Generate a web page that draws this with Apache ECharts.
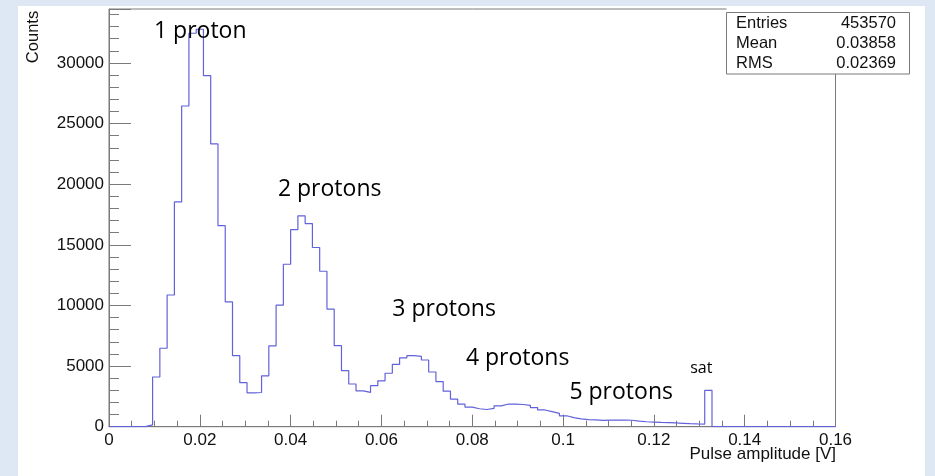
<!DOCTYPE html>
<html>
<head>
<meta charset="utf-8">
<script src="https://cdn.jsdelivr.net/npm/echarts@6/dist/echarts.min.js"></script>
<style>
  html, body { margin:0; padding:0; background:#dee8f4; }
  #panel { position:absolute; left:18px; top:6px; width:907px; height:470px; background:#fff; }
  #chart { position:absolute; left:0; top:0; width:935px; height:476px; }
</style>
</head>
<body>
<div id="panel"></div>
<div id="chart"></div>
<script>
// ---- Data ----
const binWidth = 0.0016;           // 100 bins over 0 .. 0.16 V
const xTickLabels = ['0','0.02','0.04','0.06','0.08','0.1','0.12','0.14','0.16'];
const yTickLabels = ['0','5000','10000','15000','20000','25000','30000'];
const counts = [
  0, 0, 0, 0, 0, 150, 4100, 6470, 10860, 18540,
  26450, 32450, 32780, 28950, 23320, 16580, 10290, 5860, 3630, 2790,
  2820, 4200, 6670, 10020, 13400, 16250, 17390, 16750, 14780, 12820,
  9700, 6680, 4620, 3520, 2960, 2830, 3380, 3780, 4410, 5140,
  5680, 5860, 5800, 5500, 4510, 3720, 2930, 2270, 1860, 1610,
  1480, 1420, 1510, 1720, 1870, 1870, 1830, 1760, 1580, 1380,
  1240, 1100, 900, 750, 640, 590, 560, 520, 540, 550,
  540, 530, 460, 410, 380, 350, 330, 310, 280, 250,
  230, 220, 3000, 0, 0, 0, 0, 0, 0, 0,
  0, 0, 0, 0, 0, 0, 0, 0, 0, 0
];
const annotations = [
  { text: '1 proton',  x: 0.0099, y: 32600 },
  { text: '2 protons', x: 0.0372, y: 19600 },
  { text: '3 protons', x: 0.0624, y: 9700 },
  { text: '4 protons', x: 0.0786, y: 5600 },
  { text: '5 protons', x: 0.1014, y: 2800 }
];
const satLabel = { text: 'sat', x: 0.1280, y: 4800 };
const stats = [['Entries','453570'],['Mean','0.03858'],['RMS','0.02369']];
const xTitle = 'Pulse amplitude [V]';
const yTitle = 'Counts';

// ---- Build ----
const histData = counts.map((c, i) => [i * binWidth, c]);
histData.push([counts.length * binWidth, counts[counts.length - 1]]);

const yMax = 34450;
const axisCol = '#7a7a7a';
const txtCol = '#111';
const axisFont = 'Liberation Sans, Arial, Helvetica, sans-serif';
const annFont = '"Open Sans", "Noto Sans", sans-serif';

const chart = echarts.init(document.getElementById('chart'), null, { renderer: 'canvas' });

const grid = { left: 109, right: 99.5, top: 9, bottom: 49.3 };

const annLabel = { color: '#000', fontSize: 23, fontFamily: annFont, opacity: 1 };

const option = {
  animation: false,
  backgroundColor: 'transparent',
  grid: Object.assign({ show: true, borderColor: axisCol, borderWidth: 1, backgroundColor: '#fff' }, grid),
  xAxis: {
    type: 'value', min: 0, max: 0.16, interval: 0.02,
    axisLine: { show: true, onZero: false, lineStyle: { color: axisCol, width: 1 } },
    axisTick: { show: true, inside: true, length: 12, lineStyle: { color: axisCol } },
    minorTick: { show: true, splitNumber: 4, length: 6, lineStyle: { color: axisCol } },
    splitLine: { show: false },
    axisLabel: {
      margin: 5, fontSize: 17, color: txtCol, fontFamily: axisFont,
      formatter: v => { const i = Math.round(v / 0.02); return xTickLabels[i] !== undefined ? xTickLabels[i] : ''; }
    }
  },
  yAxis: [
    {
      type: 'value', min: 0, max: yMax, interval: 5000,
      axisLine: { show: true, onZero: false, lineStyle: { color: axisCol, width: 1 } },
      axisTick: { show: true, inside: true, length: 22, lineStyle: { color: axisCol } },
      splitLine: { show: false },
      axisLabel: {
        margin: 5, fontSize: 17, color: txtCol, fontFamily: axisFont,
        formatter: v => { if (v % 5000 !== 0) return ''; const i = v / 5000; return yTickLabels[i] !== undefined ? yTickLabels[i] : ''; }
      }
    },
    {
      type: 'value', min: 0, max: yMax, interval: 1000, position: 'left',
      axisLine: { show: false },
      axisTick: { show: true, inside: true, length: 10, lineStyle: { color: axisCol } },
      splitLine: { show: false },
      axisLabel: { show: false }
    }
  ],
  series: [
    {
      type: 'line', step: 'end', data: histData, xAxisIndex: 0, yAxisIndex: 0,
      symbol: 'none', silent: true, clip: true,
      lineStyle: { color: '#6262da', width: 1.2 }
    },
    {
      type: 'scatter', xAxisIndex: 0, yAxisIndex: 0, symbolSize: 0, silent: true,
      itemStyle: { opacity: 1 },
      data: annotations.map(a => ({ value: [a.x, a.y], name: a.text, label: Object.assign({}, annLabel) }))
        .concat([{ value: [satLabel.x, satLabel.y], name: satLabel.text, label: Object.assign({}, annLabel, { fontSize: 16 }) }]),
      label: Object.assign({
        show: true, position: 'right', distance: 0, formatter: p => p.name,
        align: 'left', verticalAlign: 'middle'
      }, annLabel),
      z: 5
    }
  ],
  graphic: [
    // stats box
    { type: 'rect', z: 100, shape: { x: 726.5, y: 6, width: 183, height: 7 }, style: { fill: '#fff', stroke: null } },
    { type: 'rect', z: 100, shape: { x: 726.5, y: 12.5, width: 183, height: 61.5 }, style: { fill: '#fff', stroke: axisCol, lineWidth: 1 } },
    ...stats.map((s, i) => ({ type: 'text', z: 101, style: { text: s[0], x: 736, y: 23.5 + i * 20, font: '16.5px ' + axisFont, fill: txtCol, textAlign: 'left', textVerticalAlign: 'middle' } })),
    ...stats.map((s, i) => ({ type: 'text', z: 101, style: { text: s[1], x: 896, y: 23.5 + i * 20, font: '16.5px ' + axisFont, fill: txtCol, textAlign: 'right', textVerticalAlign: 'middle' } })),
    // axis titles
    { type: 'text', z: 101, style: { text: xTitle, x: 836, y: 454, font: '17px ' + axisFont, fill: txtCol, textAlign: 'right', textVerticalAlign: 'middle' } },
    { type: 'text', z: 101, x: 33.5, y: 37, rotation: Math.PI / 2, style: { text: yTitle, x: 0, y: 0, font: '16.5px ' + axisFont, fill: txtCol, textAlign: 'center', textVerticalAlign: 'middle' } }
  ]
};
chart.setOption(option);
</script>
</body>
</html>
